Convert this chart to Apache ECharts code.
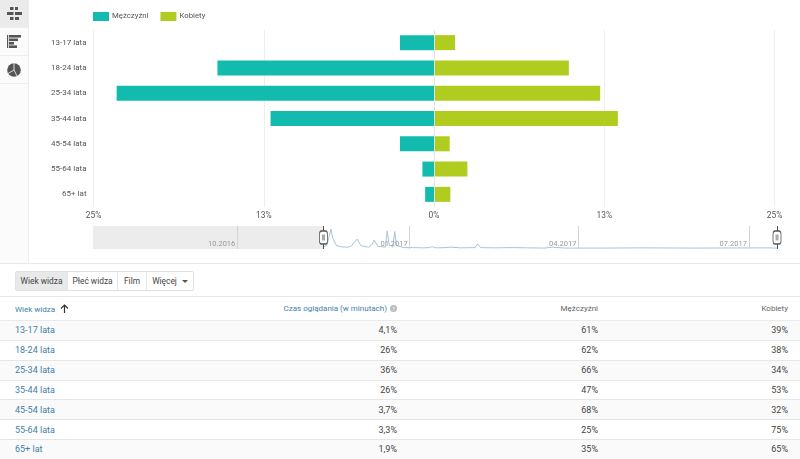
<!DOCTYPE html>
<html>
<head>
<meta charset="utf-8">
<script src="https://cdn.jsdelivr.net/npm/echarts@6/dist/echarts.min.js"></script>
<style>
  html, body { margin: 0; padding: 0; background: #fff; }
  body { width: 800px; height: 459px; position: relative; overflow: hidden; font-family: Roboto, sans-serif; }
  #chart { position: absolute; left: 0; top: 0; width: 800px; height: 262px; }
  #side { position: absolute; left: 0; top: 0; width: 28px; height: 263px; background: #fbfbfb; border-right: 1px solid #eee; }
  #side div { height: 27px; border-bottom: 1px solid #eee; display: flex; align-items: center; justify-content: center; }
  #side div.on { background: #ebebeb; }
  #sep { position: absolute; left: 0; top: 263px; width: 800px; height: 1px; background: #e8e8e8; }
  #tabs { position: absolute; left: 15px; top: 271px; height: 20px; display: flex; border: 1px solid #e0e0e0; box-sizing: border-box; border-radius: 2px; }
  #tabs span { font-size: 8.4px; font-weight: 400; color: #444; line-height: 18px; text-align: center; border-right: 1px solid #e4e4e4; box-sizing: border-box; }
  #tabs span.on { background: #e9e9e9; }
  #tabs span:last-child { border-right: 0; }
  #tabs i { display: inline-block; margin-left: 5px; vertical-align: 1px; border-left: 3px solid transparent; border-right: 3px solid transparent; border-top: 3px solid #555; }
  table { position: absolute; left: 0; top: 296px; width: 800px; border-collapse: collapse; table-layout: fixed; border-top: 1px solid #e8e8e8; }
  th { height: 23px; padding: 0; font-size: 8px; font-weight: 400; color: #666; text-align: right; border-bottom: 1px solid #eaeaea; }
  td { height: 18.85px; padding: 0; font-size: 9px; color: #444; text-align: right; border-bottom: 1px solid #e6e6e6; }
  tbody tr:nth-child(odd) { background: #fafafa; }
  th:first-child, td:first-child { text-align: left; padding-left: 15px; color: #3f7fa8; }
  th.link { color: #3f7fa8; }
  .help { display: inline-block; width: 7px; height: 7px; line-height: 7px; border-radius: 50%; background: #bbb; color: #fff; font-size: 6px; text-align: center; margin-left: 3px; }
</style>
</head>
<body>
<div id="chart"></div>
<div id="side">
  <div class="on"><svg width="15" height="13" viewBox="0 0 15 13" fill="#555"><rect x="3" y="0" width="3.5" height="3"/><rect x="8" y="0" width="3" height="3"/><rect x="0" y="5" width="6.5" height="3"/><rect x="8" y="5" width="7" height="3"/><rect x="3" y="10" width="3.5" height="3"/><rect x="8" y="10" width="4" height="3"/></svg></div>
  <div><svg width="14" height="13" viewBox="0 0 14 13" fill="#555"><rect x="0" y="0" width="1.2" height="13"/><rect x="2" y="0" width="12" height="2.6"/><rect x="2" y="3.5" width="9" height="2.6"/><rect x="2" y="7" width="5" height="2.6"/><rect x="2" y="10.4" width="8" height="2.6"/></svg></div>
  <div><svg width="14" height="14" viewBox="0 0 14 14"><circle cx="7" cy="7" r="6.8" fill="#555"/><path d="M7 7V0M7 7L1 10.5M7 7L10 13" stroke="#fbfbfb" stroke-width="0.8" fill="none"/></svg></div>
</div>
<div id="sep"></div>
<div id="tabs"></div>
<table id="tbl"></table>
<script>
// dane wykresu
const ageGroups = ['13-17 lata', '18-24 lata', '25-34 lata', '35-44 lata', '45-54 lata', '55-64 lata', '65+ lat']
const menShare = [2.5, 15.9, 23.3, 12, 2.5, 0.85, 0.65]
const womenShare = [1.55, 9.9, 12.2, 13.5, 1.15, 2.45, 1.2]

const watchTime = ['4,1%', '26%', '36%', '26%', '3,7%', '3,3%', '1,9%']
const menPct = ['61%', '62%', '66%', '47%', '68%', '25%', '35%']
const womenPct = ['39%', '38%', '34%', '53%', '32%', '75%', '65%']

const tabNames = ['Wiek widza', 'Płeć widza', 'Film', 'Więcej']
const tabWidths = [52, 50, 29, 46]

const monthDates = ['2016-10-01', '2017-01-01', '2017-04-01', '2017-07-01']
const monthLabels = ['10.2016', '01.2017', '04.2017', '07.2017']
const rangeStart = '2016-07-16'
const rangeEnd = '2017-07-16'
const handleStart = '2016-11-16'

const sparkDates = ['2016-11-16', '2016-11-18', '2016-11-19', '2016-11-20', '2016-11-21', '2016-11-23', '2016-11-26', '2016-11-29',
  '2016-12-01', '2016-12-02', '2016-12-04', '2016-12-06', '2016-12-07', '2016-12-10', '2016-12-12', '2016-12-13', '2016-12-15', '2016-12-16',
  '2016-12-19', '2016-12-20', '2016-12-21', '2016-12-23', '2016-12-24', '2016-12-25', '2016-12-29', '2017-01-03', '2017-01-08',
  '2017-01-11', '2017-01-13', '2017-01-15', '2017-01-20', '2017-01-23', '2017-01-28', '2017-02-05', '2017-02-06', '2017-02-08', '2017-02-15',
  '2017-02-25', '2017-03-05', '2017-03-14', '2017-03-18', '2017-03-25', '2017-04-15', '2017-05-05', '2017-06-01', '2017-07-10', '2017-07-16']
const sparkValues = [8, 20, 55, 87, 45, 14, 9, 8,
  14, 25, 43, 14, 7, 8, 20, 39, 12, 6,
  8, 78, 20, 8, 76, 15, 6, 6, 5,
  6, 10, 5, 6, 8, 5, 6, 22, 6, 5,
  6, 5, 4, 8, 4, 4, 5, 4, 5, 4]

const labelFont = 'Roboto, sans-serif'

// tabela i przyciski
document.getElementById('tabs').innerHTML = tabNames.map((t, i) =>
  `<span class="${i === 0 ? 'on' : ''}" style="width:${tabWidths[i]}px">${t}${t === 'Więcej' ? '<i></i>' : ''}</span>`).join('')

document.getElementById('tbl').innerHTML =
  '<colgroup><col style="width:200px"><col style="width:197px"><col style="width:201px"><col style="width:190px"><col style="width:12px"></colgroup>' +
  '<thead><tr><th class="link">Wiek widza <svg width="9" height="9" viewBox="0 0 9 9" style="margin-left:3px;vertical-align:-1px"><path d="M4.5 9V1M1 4.5L4.5 1L8 4.5" stroke="#333" stroke-width="1.2" fill="none"/></svg></th>' +
  '<th class="link">Czas oglądania (w minutach)<span class="help">?</span></th><th>Mężczyźni</th><th>Kobiety</th><th></th></tr></thead><tbody>' +
  ageGroups.map((g, i) => `<tr><td>${g}</td><td>${watchTime[i]}</td><td>${menPct[i]}</td><td>${womenPct[i]}</td><td></td></tr>`).join('') +
  '</tbody>'

const myChart = echarts.init(document.getElementById('chart'))

const option = {
  animation: false,
  legend: {
    left: 88,
    top: 7,
    icon: 'rect',
    itemWidth: 16,
    itemHeight: 9,
    itemGap: 12,
    selectedMode: false,
    data: ['Mężczyźni', 'Kobiety'],
    textStyle: { color: '#555', fontSize: 7.8, fontFamily: labelFont, padding: [0, 0, 0, -2] }
  },
  grid: [
    { left: 93.5, right: 25.5, top: 30, height: 177 },
    { left: 93, right: 23, top: 226, height: 23 }
  ],
  xAxis: [
    {
      type: 'value',
      gridIndex: 0,
      min: -25,
      max: 25,
      interval: 12.5,
      axisLine: { show: false },
      axisTick: { show: false },
      splitLine: { lineStyle: { color: '#eee', width: 1 } },
      axisLabel: {
        color: '#555',
        fontSize: 8.4,
        fontFamily: labelFont,
        margin: 5,
        formatter: v => Math.round(Math.abs(v)) + '%'
      }
    },
    {
      type: 'time',
      gridIndex: 1,
      min: rangeStart,
      max: rangeEnd,
      axisLine: { show: false },
      axisTick: { show: false },
      axisLabel: { show: false },
      splitLine: { show: false }
    }
  ],
  yAxis: [
    {
      type: 'category',
      gridIndex: 0,
      data: ageGroups,
      inverse: true,
      axisLine: { show: false },
      axisTick: { show: false },
      axisLabel: { color: '#555', fontSize: 8, fontFamily: labelFont, margin: 7 }
    },
    { type: 'value', gridIndex: 1, min: 0, max: 100, show: false }
  ],
  series: [
    {
      name: 'Mężczyźni',
      type: 'bar',
      stack: 'age',
      barWidth: 15,
      itemStyle: { color: '#13bbaf' },
      data: menShare.map(v => -v),
      z: 2
    },
    {
      name: 'Kobiety',
      type: 'bar',
      stack: 'age',
      barWidth: 15,
      itemStyle: { color: '#afcc1f' },
      data: womenShare,
      markLine: {
        silent: true,
        symbol: 'none',
        label: { show: false },
        lineStyle: { color: '#e4e4e4', type: 'solid', width: 1 },
        data: [{ xAxis: 0 }]
      },
      z: 2
    },
    {
      name: 'Czas',
      type: 'line',
      xAxisIndex: 1,
      yAxisIndex: 1,
      showSymbol: false,
      lineStyle: { color: '#a9c3da', width: 1 },
      data: sparkDates.map((d, i) => [d, sparkValues[i]]),
      markArea: {
        silent: true,
        itemStyle: { color: '#ececec', borderWidth: 0 },
        data: [[{ xAxis: rangeStart }, { xAxis: handleStart }]]
      },
      markLine: {
        silent: true,
        symbol: 'none',
        label: { show: false },
        data: monthDates.map(d => ({ xAxis: d, lineStyle: { color: '#d4d4d4', type: 'solid', width: 1 } }))
          .concat([handleStart, rangeEnd].map(d => ({ xAxis: d, lineStyle: { color: '#555', type: 'solid', width: 1 } })))
      },
      markPoint: {
        silent: true,
        data: monthDates.map((d, i) => ({
          coord: [d, 22],
          symbol: 'rect',
          symbolSize: 0,
          label: { show: true, position: 'left', distance: 2, formatter: monthLabels[i], color: '#999', fontSize: 7.5, fontFamily: labelFont }
        })).concat([handleStart, rangeEnd].flatMap(d => [
          {
            coord: [d, 50],
            symbol: 'roundRect',
            symbolSize: [8, 13],
            itemStyle: { color: '#fff', borderColor: '#555', borderWidth: 1 },
            label: { show: false }
          },
          {
            coord: [d, 50],
            symbol: 'rect',
            symbolSize: [3, 6],
            itemStyle: { color: '#aaa' },
            label: { show: false }
          }
        ]))
      }
    }
  ]
}

myChart.setOption(option)
</script>
</body>
</html>
